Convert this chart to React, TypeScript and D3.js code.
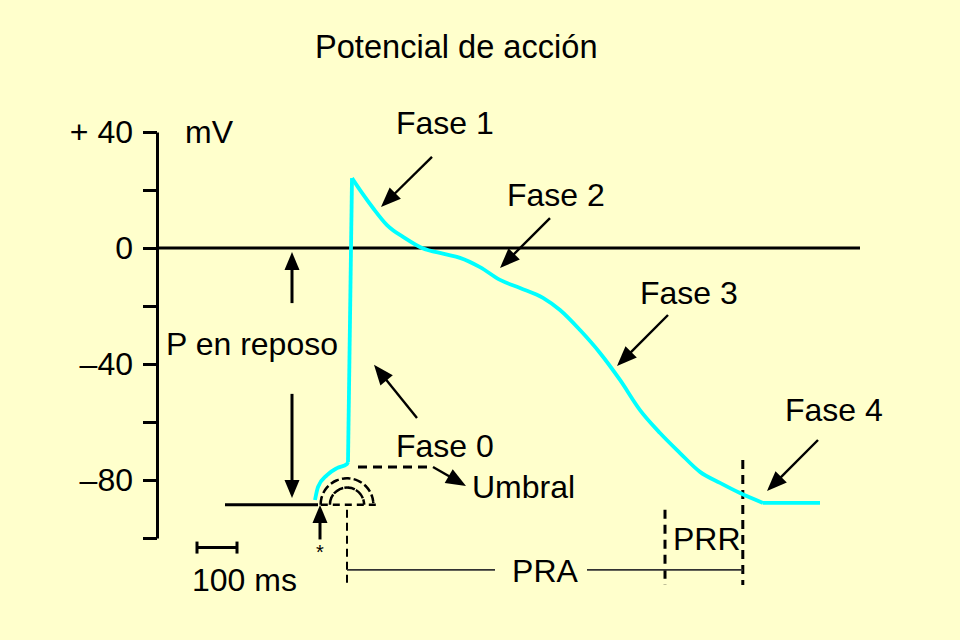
import React, { useEffect, useRef } from 'react';
import * as d3 from 'd3';

const W = 960;
const H = 640;

// action potential trace: time in ms from the stimulus, potential in mV
const footT = [-12.5, -5, 17.5, 42.5, 67.5, 70];
const footV = [-86.9, -82.4, -78.3, -75.9, -74.5, -73.8];
const upT = [70, 80];
const upV = [-73.8, 24.1];
const repolT = [80, 105, 132.5, 167.5, 212.5, 255, 312.5, 350, 400, 450, 500, 557.5, 600, 650, 700, 750, 800, 850, 900, 950, 1000, 1050, 1107.5];
const repolV = [24.1, 19.0, 13.8, 7.9, 3.4, 0, -2.1, -3.4, -6.6, -11, -13.8, -17.2, -21.4, -28.3, -36.2, -45.5, -55.9, -63.8, -70.7, -77.2, -81, -84.5, -87.9];
const tailT = [1107.5, 1250];
const tailV = [-87.9, -87.9];

// y axis
const yTicks = [40, 20, 0, -20, -40, -60, -80, -100];
const yTickLabels = ['+ 40', '', '0', '', '–40', '', '–80', ''];

// reference levels
const restLevel = -88.5;
const restStart = -237.5;
const thresholdLevel = -75.5;
const thresholdSpan = [95, 282.5];
const stimT = 0;
const arcCenterT = 67.5;
const arcRadii = [5.9, 9.1]; // mV
const praSpan = [67.5, 1057];
const prrStart = 862.5;
const scaleBarStart = -307.5;
const scaleBarLen = 100;

// labels: [text, t, v]
const labels: [string, number, number][] = [
  ['Fase 1', 190, 39.3],
  ['Fase 2', 467.5, 14.5],
  ['Fase 3', 800, -19.3],
  ['Fase 4', 1162.5, -59.7],
  ['Fase 0', 190, -72.1],
  ['Umbral', 380, -86.2],
  ['P en reposo', -385, -36.9],
  ['100 ms', -320, -118.3],
  ['mV', -337.5, 36.2],
  ['PRR', 882.5, -104.1],
];

// arrows: tail [t, v] -> tip [t, v]
const arrows: [number, number, number, number][] = [
  [280, 31.4, 152.5, 14.1],
  [575, 10.3, 450, -6.9],
  [870, -23.1, 742.5, -40.7],
  [1245, -66.2, 1117.5, -83.8],
  [242.5, -58.6, 135, -40.3],
  [282.5, -75.5, 365, -82.1],
];
const bigArrows: [number, number, number, number][] = [
  [-70, -19, -70, -1.4],
  [-70, -50.3, -70, -86.2],
  [0, -100.5, 0, -88.6],
];

const FONT = '"Liberation Sans", Arial, Helvetica, sans-serif';

export default function App() {
  const svgRef = useRef<SVGSVGElement>(null);

  useEffect(() => {
    const svg = d3.select(svgRef.current);
    svg.selectAll('*').remove();

    const x = d3.scaleLinear().domain([0, 1000]).range([320, 720]);
    const y = d3.scaleLinear().domain([-100, 40]).range([538, 132]);
    const axisT = -407.5;

    svg.append('rect').attr('width', W).attr('height', H).attr('fill', '#FFFFCC');

    // y axis
    const axis = d3.axisLeft(y)
      .tickValues(yTicks)
      .tickSize(14)
      .tickSizeOuter(0)
      .tickPadding(10)
      .tickFormat((d) => yTickLabels[yTicks.indexOf(+d)]);
    const gA = svg.append('g').attr('transform', `translate(${x(axisT)},0)`).call(axis);
    gA.select('.domain').attr('stroke', '#000').attr('stroke-width', 3);
    gA.selectAll('.tick line').attr('stroke', '#000').attr('stroke-width', 3);
    gA.selectAll('.tick text')
      .attr('font-size', 32)
      .attr('font-family', FONT)
      .attr('fill', '#000');

    // zero line
    svg.append('line')
      .attr('x1', x(axisT)).attr('x2', x(1350))
      .attr('y1', y(0)).attr('y2', y(0))
      .attr('stroke', '#000').attr('stroke-width', 3);

    // resting line
    svg.append('line')
      .attr('x1', x(restStart)).attr('x2', x(stimT - 5))
      .attr('y1', y(restLevel)).attr('y2', y(restLevel))
      .attr('stroke', '#000').attr('stroke-width', 3);
    svg.append('line')
      .attr('x1', x(stimT + 2)).attr('x2', x(142.5))
      .attr('y1', y(restLevel)).attr('y2', y(restLevel))
      .attr('stroke', '#000').attr('stroke-width', 2.5)
      .attr('stroke-dasharray', '7 5');

    // dashed half circles
    const arc = d3.arc<number>()
      .innerRadius((r) => y(0) - y(r))
      .outerRadius((r) => y(0) - y(r))
      .startAngle(-Math.PI / 2)
      .endAngle(Math.PI / 2);
    svg.selectAll('.arc').data(arcRadii).enter().append('path')
      .attr('transform', `translate(${x(arcCenterT)},${y(restLevel)})`)
      .attr('d', (r) => arc(r) as string)
      .attr('fill', 'none')
      .attr('stroke', '#000').attr('stroke-width', 2.5)
      .attr('stroke-dasharray', '7 5');

    // threshold
    svg.append('line')
      .attr('x1', x(thresholdSpan[0])).attr('x2', x(thresholdSpan[1]))
      .attr('y1', y(thresholdLevel)).attr('y2', y(thresholdLevel))
      .attr('stroke', '#000').attr('stroke-width', 3)
      .attr('stroke-dasharray', '9 6');

    // refractory periods
    const dashV = (t: number, v1: number, v2: number, w: number, dash: string) =>
      svg.append('line')
        .attr('x1', x(t)).attr('x2', x(t))
        .attr('y1', y(v1)).attr('y2', y(v2))
        .attr('stroke', '#000').attr('stroke-width', w)
        .attr('stroke-dasharray', dash);
    dashV(praSpan[0], -90.3, -116.2, 2, '8 5');
    dashV(prrStart, -90.3, -116.2, 3, '9 6');
    dashV(praSpan[1], -73.1, -116.2, 3, '9 6');

    const praY = y(-111);
    svg.append('line')
      .attr('x1', x(praSpan[0])).attr('x2', x(437.5))
      .attr('y1', praY).attr('y2', praY)
      .attr('stroke', '#333').attr('stroke-width', 1.6);
    svg.append('line')
      .attr('x1', x(667.5)).attr('x2', x(praSpan[1]))
      .attr('y1', praY).attr('y2', praY)
      .attr('stroke', '#333').attr('stroke-width', 1.6);
    svg.append('text')
      .attr('x', x(562.5)).attr('y', y(-115.2))
      .attr('text-anchor', 'middle')
      .attr('font-family', FONT).attr('font-size', 32)
      .text('PRA');

    // scale bar
    const sbY = y(-103.3);
    const sb = svg.append('g').attr('stroke', '#000').attr('stroke-width', 3);
    sb.append('line').attr('x1', x(scaleBarStart)).attr('x2', x(scaleBarStart + scaleBarLen)).attr('y1', sbY).attr('y2', sbY);
    sb.append('line').attr('x1', x(scaleBarStart)).attr('x2', x(scaleBarStart)).attr('y1', sbY - 6).attr('y2', sbY + 6);
    sb.append('line').attr('x1', x(scaleBarStart + scaleBarLen)).attr('x2', x(scaleBarStart + scaleBarLen)).attr('y1', sbY - 6).attr('y2', sbY + 6);

    // action potential
    const line = d3.line<[number, number]>().x((d) => x(d[0])).y((d) => y(d[1]));
    const zip = (ts: number[], vs: number[]) => ts.map((t, i) => [t, vs[i]] as [number, number]);
    const cyan = (pts: [number, number][], curve: d3.CurveFactory) =>
      svg.append('path')
        .attr('d', line.curve(curve)(pts) as string)
        .attr('fill', 'none')
        .attr('stroke', '#00FFFF')
        .attr('stroke-width', 3.8)
        .attr('stroke-linejoin', 'round');
    cyan(zip(footT, footV), d3.curveMonotoneX);
    cyan(zip(upT, upV), d3.curveLinear);
    cyan(zip(repolT, repolV), d3.curveMonotoneX);
    cyan(zip(tailT, tailV), d3.curveLinear);

    // arrows
    const drawArrow = (a: [number, number, number, number], hl: number, hw: number, sw: number) => {
      const x1 = x(a[0]), y1 = y(a[1]), x2 = x(a[2]), y2 = y(a[3]);
      const L = Math.hypot(x2 - x1, y2 - y1);
      const ux = (x2 - x1) / L, uy = (y2 - y1) / L;
      const bx = x2 - ux * hl, by = y2 - uy * hl;
      svg.append('line')
        .attr('x1', x1).attr('y1', y1)
        .attr('x2', bx + ux * 2).attr('y2', by + uy * 2)
        .attr('stroke', '#000').attr('stroke-width', sw);
      svg.append('path')
        .attr('d', `M${x2},${y2}L${bx - uy * hw / 2},${by + ux * hw / 2}L${bx + uy * hw / 2},${by - ux * hw / 2}Z`)
        .attr('fill', '#000');
    };
    arrows.forEach((a) => drawArrow(a, 20, 16, 2.4));
    bigArrows.forEach((a) => drawArrow(a, 18, 15, 3));

    // labels
    svg.selectAll('.lbl').data(labels).enter().append('text')
      .attr('x', (d) => x(d[1]))
      .attr('y', (d) => y(d[2]))
      .attr('font-family', FONT)
      .attr('font-size', 32)
      .attr('fill', '#000')
      .text((d) => d[0]);

    svg.append('text')
      .attr('x', x(stimT)).attr('y', y(-107.2))
      .attr('text-anchor', 'middle')
      .attr('font-family', FONT).attr('font-size', 20)
      .text('*');

    svg.append('text')
      .attr('x', x(-12.5)).attr('y', y(65.5))
      .attr('font-family', FONT).attr('font-size', 32.6)
      .text('Potencial de acción');
  }, []);

  return (
    <svg
      ref={svgRef}
      width={W}
      height={H}
      style={{ position: 'absolute', left: 0, top: 0, display: 'block' }}
    />
  );
}
